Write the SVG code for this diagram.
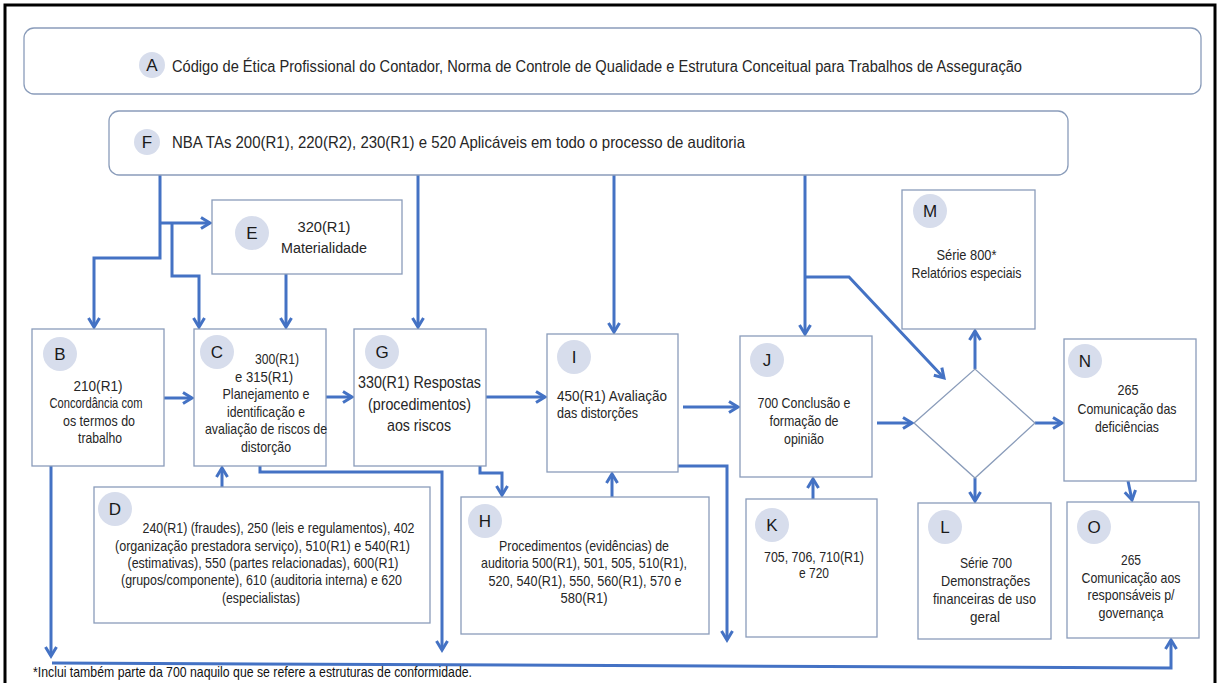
<svg xmlns="http://www.w3.org/2000/svg" width="1220" height="683" viewBox="0 0 1220 683">
<style>
.bx{fill:#fff;stroke:#8a9cba;stroke-width:1.3}
.cir{fill:#d7ddec}
.lt{font-family:"Liberation Sans",Arial,sans-serif;font-size:17px;fill:#1a1a1a;text-anchor:middle}
.t{font-family:"Liberation Sans Narrow","Liberation Sans",Arial,sans-serif;font-size:15px;fill:#262626;text-anchor:middle}
.tl{text-anchor:start}
.cn{fill:none;stroke:#4472c4;stroke-width:3;marker-end:url(#ah)}
</style>
<defs>
<marker id="ah" markerUnits="userSpaceOnUse" viewBox="0 0 14 14" markerWidth="14" markerHeight="14" refX="11" refY="7" orient="auto">
<path d="M2,1.5 L11,7 L2,12.5" fill="none" stroke="#4472c4" stroke-width="3"/>
</marker>
</defs>
<rect x="0" y="0" width="1220" height="683" fill="#fff"/>
<rect x="5" y="5" width="1210" height="700" fill="none" stroke="#000" stroke-width="3"/>

<g id="connectors">
<path class="cn" d="M160,175 V258 H94 V327"/>
<path class="cn" d="M160,223 H210"/>
<path class="cn" d="M172,223 V276 H199 V327"/>
<path class="cn" d="M286,274 V327"/>
<path class="cn" d="M418,175 V327"/>
<path class="cn" d="M614,175 V332"/>
<path class="cn" d="M805,175 V334"/>
<path class="cn" d="M805,277 H849 L944,378"/>
<path class="cn" d="M164,398 H192"/>
<path class="cn" d="M326,397 H352"/>
<path class="cn" d="M486,397 H545"/>
<path class="cn" d="M683,407 H738"/>
<path class="cn" d="M877,423 H912"/>
<path class="cn" d="M1035,423 H1062"/>
<path class="cn" d="M975,369 V331"/>
<path class="cn" d="M975,478 V501"/>
<path class="cn" d="M1128,481 L1132,500"/>
<path class="cn" d="M222,487 V468"/>
<path class="cn" d="M260,466 V472 H442 V650"/>
<path class="cn" d="M480,466 V473 H502 V495"/>
<path class="cn" d="M612,497 V474"/>
<path class="cn" d="M678,466 H727 V640"/>
<path class="cn" d="M813,499 V479"/>
<path class="cn" d="M51,466 V656"/>
<path class="cn" d="M52,663 L1171,668 V640"/>
</g>

<g id="A">
<rect class="bx" x="24" y="28" width="1177" height="66" rx="10"/>
<circle class="cir" cx="152" cy="65" r="13"/>
<text class="lt" x="152" y="71">A</text>
<text class="t tl" x="172" y="72" style="font-size:16px" textLength="850" lengthAdjust="spacingAndGlyphs">Código de Ética Profissional do Contador, Norma de Controle de Qualidade e Estrutura Conceitual para Trabalhos de Asseguração</text>
</g>

<g id="F">
<rect class="bx" x="109" y="111" width="959" height="64" rx="10"/>
<circle class="cir" cx="147" cy="142" r="13"/>
<text class="lt" x="147" y="148">F</text>
<text class="t tl" x="172" y="148" style="font-size:16.5px" textLength="573" lengthAdjust="spacingAndGlyphs">NBA TAs 200(R1), 220(R2), 230(R1) e 520 Aplicáveis em todo o processo de auditoria</text>
</g>

<g id="E">
<rect class="bx" x="212" y="200" width="190" height="74"/>
<circle class="cir" cx="252" cy="233" r="17"/>
<text class="lt" x="252" y="239">E</text>
<text class="t" x="324" y="232" style="font-size:15.5px" textLength="53" lengthAdjust="spacingAndGlyphs">320(R1)</text>
<text class="t" x="324" y="253" style="font-size:15.5px" textLength="86" lengthAdjust="spacingAndGlyphs">Materialidade</text>
</g>

<g id="B">
<rect class="bx" x="32" y="329" width="132" height="137"/>
<circle class="cir" cx="60" cy="354" r="17"/>
<text class="lt" x="60" y="360">B</text>
<text class="t" x="98" y="391" textLength="49" lengthAdjust="spacingAndGlyphs">210(R1)</text>
<text class="t" x="96" y="408" textLength="93" lengthAdjust="spacingAndGlyphs">Concordância com</text>
<text class="t" x="99" y="426" textLength="72" lengthAdjust="spacingAndGlyphs">os termos do</text>
<text class="t" x="100" y="443" textLength="44" lengthAdjust="spacingAndGlyphs">trabalho</text>
</g>

<g id="C">
<rect class="bx" x="194" y="329" width="132" height="137"/>
<circle class="cir" cx="217" cy="352" r="17"/>
<text class="lt" x="217" y="358">C</text>
<text class="t" x="277" y="364" textLength="44" lengthAdjust="spacingAndGlyphs">300(R1)</text>
<text class="t" x="264" y="382" textLength="58" lengthAdjust="spacingAndGlyphs">e 315(R1)</text>
<text class="t" x="266" y="399" textLength="87" lengthAdjust="spacingAndGlyphs">Planejamento e</text>
<text class="t" x="266" y="417" textLength="78" lengthAdjust="spacingAndGlyphs">identificação e</text>
<text class="t" x="266" y="434" textLength="122" lengthAdjust="spacingAndGlyphs">avaliação de riscos de</text>
<text class="t" x="266" y="452" textLength="50" lengthAdjust="spacingAndGlyphs">distorção</text>
</g>

<g id="G">
<rect class="bx" x="354" y="329" width="132" height="137"/>
<circle class="cir" cx="382" cy="352" r="17"/>
<text class="lt" x="382" y="358">G</text>
<text class="t" x="419.5" y="388" style="font-size:17px" textLength="123" lengthAdjust="spacingAndGlyphs">330(R1) Respostas</text>
<text class="t" x="419.5" y="410" style="font-size:17px" textLength="103" lengthAdjust="spacingAndGlyphs">(procedimentos)</text>
<text class="t" x="419" y="431" style="font-size:17px" textLength="64" lengthAdjust="spacingAndGlyphs">aos riscos</text>
</g>

<g id="I">
<rect class="bx" x="547" y="334" width="131" height="138"/>
<circle class="cir" cx="574" cy="357" r="17"/>
<text class="lt" x="574" y="363">I</text>
<text class="t tl" x="557" y="401" textLength="110" lengthAdjust="spacingAndGlyphs">450(R1) Avaliação</text>
<text class="t tl" x="557" y="418" textLength="81" lengthAdjust="spacingAndGlyphs">das distorções</text>
</g>

<g id="J">
<rect class="bx" x="740" y="336" width="132" height="141"/>
<circle class="cir" cx="767" cy="360" r="17"/>
<text class="lt" x="767" y="366">J</text>
<text class="t" x="804" y="408" textLength="93" lengthAdjust="spacingAndGlyphs">700 Conclusão e</text>
<text class="t" x="804" y="426" textLength="69" lengthAdjust="spacingAndGlyphs">formação de</text>
<text class="t" x="804" y="444" textLength="40" lengthAdjust="spacingAndGlyphs">opinião</text>
</g>

<g id="M">
<rect class="bx" x="902" y="190" width="133" height="139"/>
<circle class="cir" cx="930" cy="211" r="17"/>
<text class="lt" x="930" y="217">M</text>
<text class="t" x="966.5" y="260" textLength="60" lengthAdjust="spacingAndGlyphs">Série 800*</text>
<text class="t" x="966.5" y="278" textLength="110" lengthAdjust="spacingAndGlyphs">Relatórios especiais</text>
</g>

<g id="diamond">
<polygon points="914,423 975,369 1035,423 975,478" fill="#fff" stroke="#8a9cba" stroke-width="1.3"/>
</g>

<g id="N">
<rect class="bx" x="1064" y="339" width="132" height="142"/>
<circle class="cir" cx="1085" cy="361" r="17"/>
<text class="lt" x="1085" y="367">N</text>
<text class="t" x="1128" y="395" textLength="21" lengthAdjust="spacingAndGlyphs">265</text>
<text class="t" x="1127" y="414" textLength="99" lengthAdjust="spacingAndGlyphs">Comunicação das</text>
<text class="t" x="1127" y="432" textLength="64" lengthAdjust="spacingAndGlyphs">deficiências</text>
</g>

<g id="D">
<rect class="bx" x="94" y="487" width="336" height="136"/>
<circle class="cir" cx="115" cy="509" r="17"/>
<text class="lt" x="115" y="515">D</text>
<text class="t" x="278.5" y="533" textLength="272" lengthAdjust="spacingAndGlyphs">240(R1) (fraudes), 250 (leis e regulamentos), 402</text>
<text class="t" x="262.5" y="551" textLength="295" lengthAdjust="spacingAndGlyphs">(organização prestadora serviço), 510(R1) e 540(R1)</text>
<text class="t" x="263" y="568" textLength="271" lengthAdjust="spacingAndGlyphs">(estimativas), 550 (partes relacionadas), 600(R1)</text>
<text class="t" x="261.5" y="585" textLength="281" lengthAdjust="spacingAndGlyphs">(grupos/componente), 610 (auditoria interna) e 620</text>
<text class="t" x="261" y="603" textLength="78" lengthAdjust="spacingAndGlyphs">(especialistas)</text>
</g>

<g id="H">
<rect class="bx" x="461" y="497" width="248" height="137"/>
<circle class="cir" cx="485" cy="521" r="17"/>
<text class="lt" x="485" y="527">H</text>
<text class="t" x="584" y="551" textLength="170" lengthAdjust="spacingAndGlyphs">Procedimentos (evidências) de</text>
<text class="t" x="584" y="568" textLength="206" lengthAdjust="spacingAndGlyphs">auditoria 500(R1), 501, 505, 510(R1),</text>
<text class="t" x="585" y="586" textLength="193" lengthAdjust="spacingAndGlyphs">520, 540(R1), 550, 560(R1), 570 e</text>
<text class="t" x="584" y="603" textLength="47" lengthAdjust="spacingAndGlyphs">580(R1)</text>
</g>

<g id="K">
<rect class="bx" x="746" y="499" width="131" height="138"/>
<circle class="cir" cx="772" cy="525" r="17"/>
<text class="lt" x="772" y="531">K</text>
<text class="t" x="814" y="562" textLength="100" lengthAdjust="spacingAndGlyphs">705, 706, 710(R1)</text>
<text class="t" x="814" y="578" textLength="30" lengthAdjust="spacingAndGlyphs">e 720</text>
</g>

<g id="L">
<rect class="bx" x="918" y="503" width="133" height="136"/>
<circle class="cir" cx="945" cy="527" r="17"/>
<text class="lt" x="945" y="533">L</text>
<text class="t" x="986" y="568" textLength="52" lengthAdjust="spacingAndGlyphs">Série 700</text>
<text class="t" x="985.5" y="586" textLength="89" lengthAdjust="spacingAndGlyphs">Demonstrações</text>
<text class="t" x="984.5" y="604" textLength="103" lengthAdjust="spacingAndGlyphs">financeiras de uso</text>
<text class="t" x="985" y="622" textLength="30" lengthAdjust="spacingAndGlyphs">geral</text>
</g>

<g id="O">
<rect class="bx" x="1067" y="502" width="132" height="136"/>
<circle class="cir" cx="1094" cy="527" r="17"/>
<text class="lt" x="1094" y="533">O</text>
<text class="t" x="1131" y="565" textLength="20" lengthAdjust="spacingAndGlyphs">265</text>
<text class="t" x="1131" y="583" textLength="99" lengthAdjust="spacingAndGlyphs">Comunicação aos</text>
<text class="t" x="1131" y="600" textLength="87" lengthAdjust="spacingAndGlyphs">responsáveis p/</text>
<text class="t" x="1131" y="618" textLength="65" lengthAdjust="spacingAndGlyphs">governança</text>
</g>

<g id="footnote">
<text class="t tl" x="33" y="677" style="fill:#111" textLength="439" lengthAdjust="spacingAndGlyphs">*Inclui também parte da 700 naquilo que se refere a estruturas de conformidade.</text>
</g>
</svg>
